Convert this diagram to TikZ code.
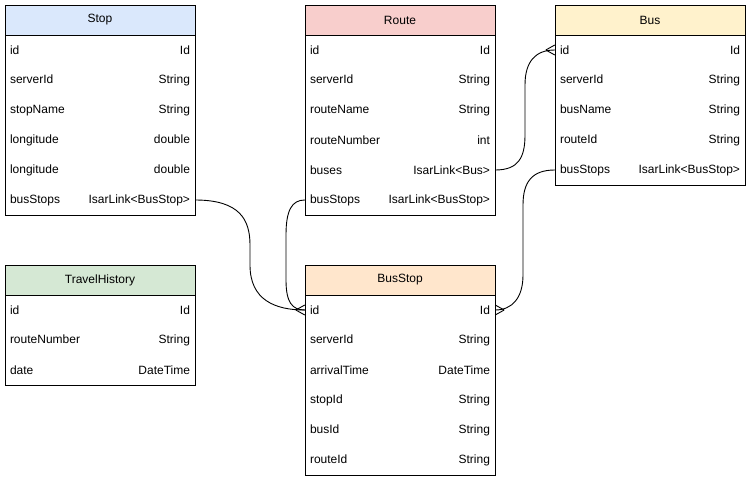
\documentclass[tikz,border=0pt]{standalone}
\usepackage{fontspec}
\setmainfont{Liberation Sans}
\usepackage{tikz}
\definecolor{SB}{HTML}{DAE8FC}
\definecolor{RR}{HTML}{F8CECC}
\definecolor{BY}{HTML}{FFF2CC}
\definecolor{TG}{HTML}{D5E8D4}
\definecolor{BO}{HTML}{FFE6CC}
\newcommand{\fieldtext}[2]{\makebox[180pt]{#1\hfill #2}}
\tikzset{
	head/.style={draw, line width=1pt, minimum width=190pt, minimum height=30pt, inner sep=0pt},
	row/.style={minimum width=190pt, minimum height=30pt, inner sep=0pt},
	rel/.style={line width=0.9pt}
}

\begin{document}
\begin{tikzpicture}[x=1pt, y=-1pt, font=\fontsize{12}{14}\selectfont]
	\useasboundingbox (0,0) rectangle (751,482);
	\fill[white] (0,0) rectangle (751,482);

	%Tabla Stop
	\node[head, fill=SB] (stop) at (100,20) {Stop};
	\draw[line width=1pt] (5,35) rectangle (195,215);
	\node[row] (stopId) at (100,50) {\fieldtext{id}{Id}};
	\node[row] (stopServerId) at (100,80) {\fieldtext{serverId}{String}};
	\node[row] (stopName) at (100,110) {\fieldtext{stopName}{String}};
	\node[row] (stopLon) at (100,140) {\fieldtext{longitude}{double}};
	\node[row] (stopLat) at (100,170) {\fieldtext{longitude}{double}};
	\node[row] (stopBusStops) at (100,200) {\fieldtext{busStops}{IsarLink<BusStop>}};

	%Tabla Route
	\node[head, fill=RR] (route) at (400,20) {Route};
	\draw[line width=1pt] (305,35) rectangle (495,215);
	\node[row] (routeId) at (400,50) {\fieldtext{id}{Id}};
	\node[row] (routeServerId) at (400,80) {\fieldtext{serverId}{String}};
	\node[row] (routeName) at (400,110) {\fieldtext{routeName}{String}};
	\node[row] (routeNumber) at (400,140) {\fieldtext{routeNumber}{int}};
	\node[row] (routeBuses) at (400,170) {\fieldtext{buses}{IsarLink<Bus>}};
	\node[row] (routeBusStops) at (400,200) {\fieldtext{busStops}{IsarLink<BusStop>}};

	%Tabla Bus
	\node[head, fill=BY] (bus) at (650,20) {Bus};
	\draw[line width=1pt] (555,35) rectangle (745,185);
	\node[row] (busId) at (650,50) {\fieldtext{id}{Id}};
	\node[row] (busServerId) at (650,80) {\fieldtext{serverId}{String}};
	\node[row] (busName) at (650,110) {\fieldtext{busName}{String}};
	\node[row] (busRouteId) at (650,140) {\fieldtext{routeId}{String}};
	\node[row] (busBusStops) at (650,170) {\fieldtext{busStops}{IsarLink<BusStop>}};

	%Tabla TravelHistory
	\node[head, fill=TG] (travel) at (100,280) {TravelHistory};
	\draw[line width=1pt] (5,295) rectangle (195,385);
	\node[row] (travelId) at (100,310) {\fieldtext{id}{Id}};
	\node[row] (travelRoute) at (100,340) {\fieldtext{routeNumber}{String}};
	\node[row] (travelDate) at (100,370) {\fieldtext{date}{DateTime}};

	%Tabla BusStop
	\node[head, fill=BO] (busStop) at (400,280) {BusStop};
	\draw[line width=1pt] (305,295) rectangle (495,475);
	\node[row] (busStopId) at (400,310) {\fieldtext{id}{Id}};
	\node[row] (busStopServerId) at (400,340) {\fieldtext{serverId}{String}};
	\node[row] (busStopArrival) at (400,370) {\fieldtext{arrivalTime}{DateTime}};
	\node[row] (busStopStopId) at (400,400) {\fieldtext{stopId}{String}};
	\node[row] (busStopBusId) at (400,430) {\fieldtext{busId}{String}};
	\node[row] (busStopRouteId) at (400,460) {\fieldtext{routeId}{String}};

	%Relaciones
	\draw[rel] (stopBusStops.east) .. controls (240,200) and (250,220) .. (250,245)
		-- (250,265) .. controls (250,300) and (275,310) .. (busStopId.west);
	\draw[rel] (routeBusStops.west) .. controls (292,200) and (286,210) .. (286,235)
		-- (286,280) .. controls (286,302) and (292,310) .. (busStopId.west);
	\draw[rel] (routeBuses.east) .. controls (518,170) and (525,158) .. (525,135)
		-- (525,85) .. controls (525,62) and (535,50) .. (busId.west);
	\draw[rel] (busBusStops.west) .. controls (532,170) and (523,182) .. (523,205)
		-- (523,275) .. controls (523,298) and (512,310) .. (busStopId.east);

	%Patas de gallo (muchos)
	\draw[rel] ([xshift=-9pt]busStopId.west) -- ([yshift=5pt]busStopId.west)
		([xshift=-9pt]busStopId.west) -- ([yshift=-5pt]busStopId.west);
	\draw[rel] ([xshift=9pt]busStopId.east) -- ([yshift=5pt]busStopId.east)
		([xshift=9pt]busStopId.east) -- ([yshift=-5pt]busStopId.east);
	\draw[rel] ([xshift=-9pt]busId.west) -- ([yshift=5pt]busId.west)
		([xshift=-9pt]busId.west) -- ([yshift=-5pt]busId.west);
\end{tikzpicture}
\end{document}
